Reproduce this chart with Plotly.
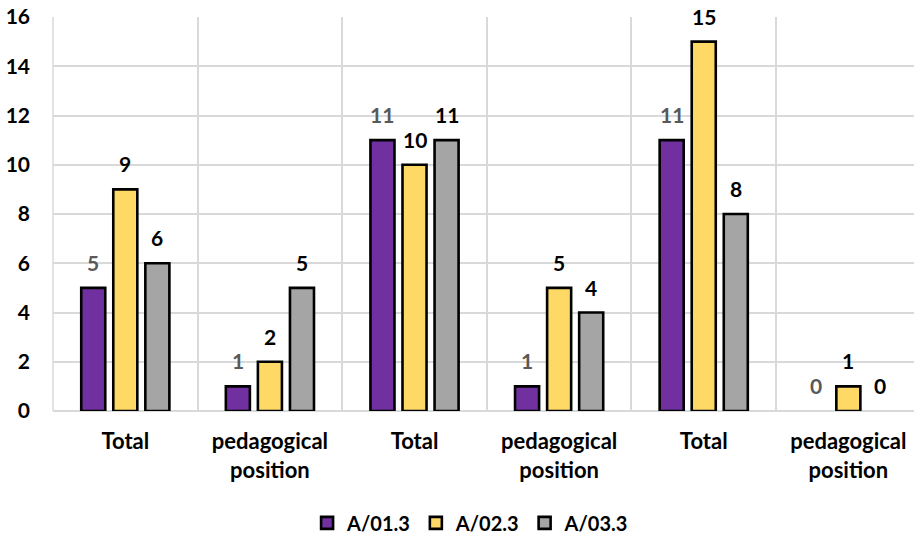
import plotly.graph_objects as go

categories = ["Total", "pedagogical<br>position", "Total", "pedagogical<br>position", "Total", "pedagogical<br>position"]
series_names = ["A/01.3", "A/02.3", "A/03.3"]
a01 = [5, 1, 11, 1, 11, 0]
a02 = [9, 2, 10, 5, 15, 1]
a03 = [6, 5, 11, 4, 8, 0]
y_ticks = [0, 2, 4, 6, 8, 10, 12, 14, 16]

colors = ["#7030A0", "#FFD966", "#A5A5A5"]
label_colors = ["#595959", "#000000", "#000000"]
FONT = "Lato"
FS = 22
BARGAP = 0.335

xs = list(range(len(categories)))
fig = go.Figure()
annotations = []
for k, (name, vals) in enumerate(zip(series_names, [a01, a02, a03])):
    fig.add_trace(go.Bar(
        x=xs, y=vals, name=name,
        marker=dict(color=colors[k],
                    line=dict(color="black", width=[0 if v == 0 else 2.6 for v in vals])),
    ))
    slot = (1 - BARGAP) / 3
    for i, v in enumerate(vals):
        annotations.append(dict(
            x=i + (k - 1) * slot, y=v, xref="x", yref="y",
            text=f"<b>{v}</b>", showarrow=False, yanchor="bottom", yshift=11,
            font=dict(family=FONT, size=FS - 1, color=label_colors[k]),
        ))

fig.update_layout(
    width=914, height=537,
    margin=dict(l=53, r=0, t=17, b=126, autoexpand=False),
    paper_bgcolor="white", plot_bgcolor="white",
    barmode="group", bargap=BARGAP, bargroupgap=0.25,
    font=dict(family=FONT, size=FS, color="black"),
    annotations=annotations,
    legend=dict(orientation="h", x=0.485, xanchor="center", y=-0.284, yanchor="middle",
                font=dict(family=FONT, size=20, color="black", weight="bold"),
                itemwidth=30, traceorder="normal"),
    showlegend=True,
)
fig.update_xaxes(
    range=[-0.5, 5.454], automargin=False,
    tickmode="array", tickvals=xs, ticktext=categories,
    tickfont=dict(family=FONT, size=FS, color="black", weight="bold"),
    showgrid=False, zeroline=False, showline=False,
    ticks="", ticklabelstandoff=15,
    minor=dict(tick0=0.5, dtick=1, showgrid=True, gridcolor="#D9D9D9", gridwidth=1.5, ticks=""),
)
fig.update_yaxes(
    range=[0, 16], tickmode="array", tickvals=y_ticks, automargin=False,
    tickfont=dict(family=FONT, size=FS - 1, color="black", weight="bold"),
    showgrid=True, gridcolor="#D9D9D9", gridwidth=1.5,
    zeroline=True, zerolinecolor="#D9D9D9", zerolinewidth=1.5,
    ticks="", ticklabelstandoff=22,
)
fig.add_shape(type="line", xref="paper", yref="paper", x0=0, x1=0, y0=0, y1=1,
              line=dict(color="#D9D9D9", width=1.5))

fig.write_html("out.html", config={"displayModeBar": False},
               post_script="document.body.style.margin='0';document.body.style.overflow='hidden';")
